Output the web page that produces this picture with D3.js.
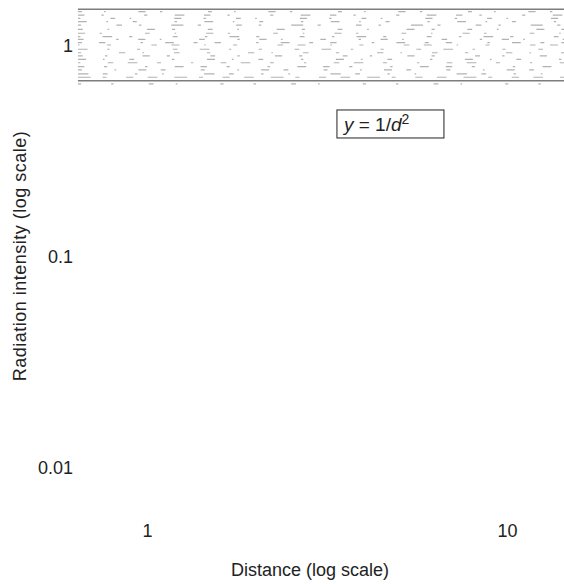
<!DOCTYPE html>
<html>
<head>
<meta charset="utf-8">
<script src="https://cdn.jsdelivr.net/npm/d3@7"></script>
<style>
  body { margin: 0; background: #fff; }
  svg text { font-family: "Liberation Sans", Arial, sans-serif; fill: #222; }
</style>
</head>
<body>
<div id="chart-area"></div>
<script>
// tick labels
const xTicks = [1, 10];
const yTicks = [1, 0.1, 0.01];

// distance range covered by the band of marks
const bandDistance = [0.643, 14.4];

// intensity of each row in the band
const bandRows = [1.493, 1.454, 1.402, 1.353, 1.304, 1.257, 1.2, 1.149, 1.107, 1.076,
  1.037, 1.011, 0.965, 0.929, 0.897, 0.865, 0.833, 0.798, 0.77, 0.737, 0.711, 0.685, 0.661];

// rows drawn as solid rules
const solidRows = [1.493, 0.685];

const WIDTH = 564;
const HEIGHT = 584;

const svg = d3
  .select("#chart-area")
  .append("svg")
  .attr("width", WIDTH)
  .attr("height", HEIGHT);

// scales
const x = d3.scaleLog().domain([1, 10]).range([147, 507]);
const y = d3.scaleLog().domain([0.01, 1]).range([468, 46]);

// dash patterns for the band rows (dash, gap, ...)
const dashes = [
  "14 4 3 9 22 6 2 12",
  "5 7 2 11 9 4 3 16",
  "8 5 3 14 4 9 12 6",
  "3 10 6 4 2 15 9 7",
  "11 6 2 8 5 13 3 9",
  "4 12 7 5 3 10 15 4",
  "6 8 2 13 10 5 4 11",
  "9 4 3 15 6 8 2 10",
  "3 7 12 5 4 14 6 9",
  "7 11 3 6 9 4 2 13",
  "5 5 8 12 3 7 11 6",
  "2 9 5 14 7 4 10 8",
  "12 6 3 9 4 11 6 7",
  "4 13 8 5 2 10 7 9",
  "6 7 3 12 9 5 4 14",
  "10 5 2 8 6 13 3 11",
  "3 9 7 4 12 6 5 10",
  "8 6 4 13 3 9 11 5",
  "5 11 2 7 10 4 6 12",
  "13 4 6 9 3 8 2 14",
  "16 3 5 6 9 4 12 5",
  "",
  "4 10 3 12 6 7 2 15"
];

// stretch the gaps so the band reads sparse like the original
const sparse = (p) =>
  p
    .split(" ")
    .map((v, i) => (i % 2 ? +v * 2.6 + 4 : +v * 0.8))
    .join(" ");

const band = svg.append("g").attr("class", "band");

band
  .selectAll("line")
  .data(bandRows)
  .join("line")
  .attr("x1", x(bandDistance[0]))
  .attr("x2", x(bandDistance[1]))
  .attr("y1", (d) => y(d))
  .attr("y2", (d) => y(d))
  .attr("stroke", (d) => (solidRows.includes(d) ? "#666" : "#888"))
  .attr("stroke-width", (d) => (solidRows.includes(d) ? 1.5 : 1.2))
  .attr("stroke-opacity", (d) => (solidRows.includes(d) ? 0.85 : 0.65))
  .attr("stroke-dasharray", (d, i) => (solidRows.includes(d) ? null : sparse(dashes[i])));

// axes
svg
  .append("g")
  .attr("transform", "translate(0, 524)")
  .call(d3.axisBottom(x).tickValues(xTicks).tickFormat(d3.format("d")).tickSize(0).tickPadding(0));

svg
  .append("g")
  .attr("transform", "translate(73, 0)")
  .call(d3.axisLeft(y).tickValues(yTicks).tickFormat((d) => String(d)).tickSize(0).tickPadding(0));

svg.selectAll(".domain").remove();
svg.selectAll(".tick text")
  .attr("font-size", "18px")
  .attr("fill", "#222")
  .style("font-family", "'Liberation Sans', Arial, sans-serif");

// axis titles
svg.append("text")
  .attr("x", 310)
  .attr("y", 576)
  .attr("font-size", "18px")
  .attr("text-anchor", "middle")
  .text("Distance (log scale)");

svg.append("text")
  .attr("transform", "rotate(-90)")
  .attr("x", -256)
  .attr("y", 26)
  .attr("font-size", "18px")
  .attr("letter-spacing", "0.5px")
  .attr("text-anchor", "middle")
  .text("Radiation intensity (log scale)");

// formula label
const labelX = x(3.37);
const labelY = y(0.427);
svg.append("rect")
  .attr("x", labelX)
  .attr("y", labelY - 14)
  .attr("width", 107)
  .attr("height", 28)
  .attr("fill", "none")
  .attr("stroke", "#222")
  .attr("stroke-width", 1);

const formula = svg.append("text")
  .attr("x", labelX + 7)
  .attr("y", labelY + 7)
  .attr("font-size", "19px");
formula.append("tspan").attr("font-style", "italic").text("y");
formula.append("tspan").text(" = 1/");
formula.append("tspan").attr("font-style", "italic").text("d");
formula.append("tspan").attr("font-size", "14px").attr("dy", -7).text("2");
</script>
</body>
</html>
